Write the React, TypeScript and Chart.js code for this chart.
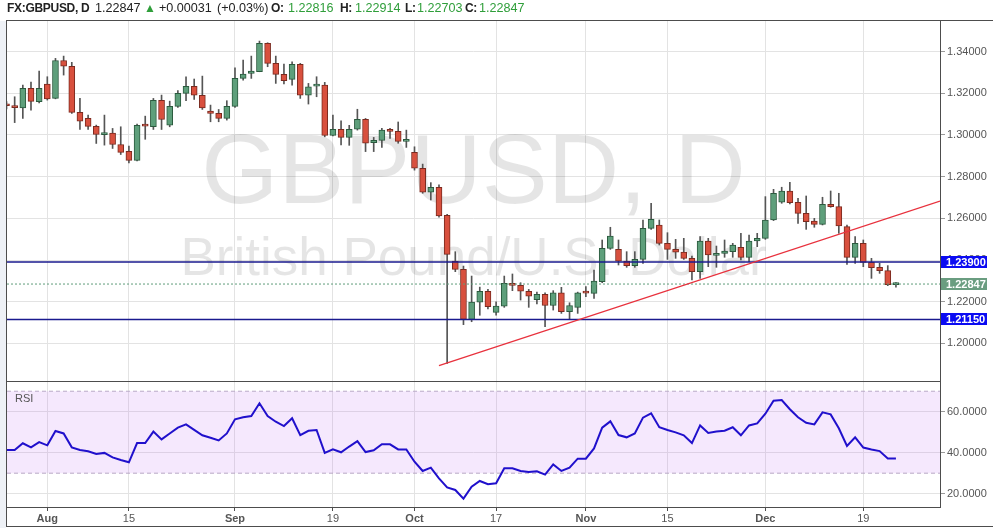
import React, { useEffect, useRef } from 'react';
import { Chart, registerables } from 'chart.js';

Chart.register(...registerables);

const FONT = "'Liberation Sans', Arial, Helvetica, sans-serif";

// ---------------- data (daily GBPUSD, Jul 25 – Dec 23) ----------------
const opens = [
  1.3145, 1.3138, 1.3130, 1.3223, 1.3159, 1.3244, 1.3175, 1.3357, 1.3329, 1.3108,
  1.3079, 1.3041, 1.3001, 1.3009, 1.2954, 1.2921, 1.2878, 1.3044, 1.3039, 1.3166,
  1.3047, 1.3137, 1.3199, 1.3233, 1.3190, 1.3114, 1.3103, 1.3079, 1.3137, 1.3271,
  1.3295, 1.3303, 1.3439, 1.3343, 1.3290, 1.3266, 1.3338, 1.3190, 1.3234, 1.3239,
  1.2998, 1.3027, 1.2988, 1.3027, 1.3075, 1.2963, 1.2974, 1.3023, 1.3017, 1.2969,
  1.2916, 1.2840, 1.2725, 1.2749, 1.2614, 1.2395, 1.2355, 1.2115, 1.2198, 1.2250,
  1.2149, 1.2178, 1.2288, 1.2278, 1.2250, 1.2210, 1.2235, 1.2182, 1.2242, 1.2152,
  1.2173, 1.2243, 1.2240, 1.2296, 1.2456, 1.2451, 1.2395, 1.2373, 1.2403, 1.2552,
  1.2568, 1.2480, 1.2451, 1.2438, 1.2408, 1.2344, 1.2491, 1.2422, 1.2432, 1.2440,
  1.2461, 1.2413, 1.2491, 1.2504, 1.2592, 1.2677, 1.2731, 1.2677, 1.2624, 1.2587,
  1.2571, 1.2667, 1.2656, 1.2560, 1.2413, 1.2480, 1.2389, 1.2365, 1.2349, 1.22816,
];
const highs = [
  1.3160, 1.3183, 1.3239, 1.3253, 1.3306, 1.3279, 1.3367, 1.3378, 1.3348, 1.3175,
  1.3095, 1.3047, 1.3095, 1.3031, 1.3039, 1.2946, 1.3052, 1.3090, 1.3175, 1.3191,
  1.3162, 1.3212, 1.3279, 1.3268, 1.3282, 1.3143, 1.3122, 1.3164, 1.3322, 1.3359,
  1.3378, 1.3450, 1.3442, 1.3378, 1.3340, 1.3351, 1.3343, 1.3247, 1.3279, 1.3252,
  1.3095, 1.3067, 1.3046, 1.3123, 1.3079, 1.2988, 1.3031, 1.3031, 1.3062, 1.3023,
  1.2943, 1.2860, 1.2771, 1.2760, 1.2619, 1.2440, 1.2371, 1.2323, 1.2270, 1.2259,
  1.2200, 1.2323, 1.2333, 1.2291, 1.2259, 1.2246, 1.2243, 1.2253, 1.2269, 1.2195,
  1.2246, 1.2272, 1.2352, 1.2496, 1.2557, 1.2496, 1.2440, 1.2440, 1.2592, 1.2672,
  1.2592, 1.2531, 1.2499, 1.2504, 1.2419, 1.2512, 1.2504, 1.2467, 1.2496, 1.2480,
  1.2528, 1.2520, 1.2528, 1.2704, 1.2739, 1.2749, 1.2773, 1.2696, 1.2707, 1.2600,
  1.2701, 1.2731, 1.2720, 1.2568, 1.2512, 1.2496, 1.2408, 1.2384, 1.2373, 1.22914,
];
const lows = [
  1.3125, 1.3059, 1.3079, 1.3119, 1.3154, 1.3167, 1.3173, 1.3287, 1.3103, 1.3026,
  1.3026, 1.2959, 1.2951, 1.2935, 1.2906, 1.2866, 1.2875, 1.2979, 1.3026, 1.3026,
  1.3039, 1.3132, 1.3164, 1.3170, 1.3122, 1.3063, 1.3063, 1.3071, 1.3132, 1.3263,
  1.3271, 1.3303, 1.3327, 1.3247, 1.3244, 1.3239, 1.3175, 1.3148, 1.3183, 1.2991,
  1.2995, 1.2952, 1.2950, 1.3023, 1.2920, 1.2920, 1.2940, 1.2983, 1.2960, 1.2940,
  1.2831, 1.2720, 1.2688, 1.2605, 1.1904, 1.2344, 1.2090, 1.2104, 1.2135, 1.2165,
  1.2135, 1.2173, 1.2253, 1.2208, 1.2173, 1.2189, 1.2080, 1.2160, 1.2144, 1.2115,
  1.2144, 1.2224, 1.2216, 1.2291, 1.2451, 1.2376, 1.2365, 1.2365, 1.2384, 1.2547,
  1.2472, 1.2403, 1.2408, 1.2403, 1.2304, 1.2312, 1.2368, 1.2365, 1.2413, 1.2413,
  1.2400, 1.2392, 1.2464, 1.2499, 1.2589, 1.2672, 1.2669, 1.2576, 1.2547, 1.2557,
  1.2568, 1.2653, 1.2528, 1.2379, 1.2384, 1.2368, 1.2312, 1.2336, 1.2277, 1.22703,
];
const closes = [
  1.3140, 1.3131, 1.3223, 1.3161, 1.3223, 1.3173, 1.3357, 1.3330, 1.3108, 1.3066,
  1.3041, 1.3002, 1.3005, 1.2954, 1.2916, 1.2878, 1.3046, 1.3042, 1.3166, 1.3074,
  1.3137, 1.3199, 1.3233, 1.3190, 1.3130, 1.3103, 1.3079, 1.3137, 1.3271, 1.3292,
  1.3306, 1.3439, 1.3343, 1.3290, 1.3260, 1.3338, 1.3190, 1.3231, 1.3236, 1.2998,
  1.3027, 1.2988, 1.3027, 1.3075, 1.2960, 1.2974, 1.3023, 1.3017, 1.2969, 1.2975,
  1.2841, 1.2725, 1.2749, 1.2611, 1.2427, 1.2355, 1.2115, 1.2198, 1.2250, 1.2176,
  1.2179, 1.2288, 1.2278, 1.2250, 1.2226, 1.2235, 1.2182, 1.2242, 1.2152, 1.2182,
  1.2242, 1.2241, 1.2299, 1.2456, 1.2515, 1.2395, 1.2373, 1.2403, 1.2552, 1.2595,
  1.2480, 1.2451, 1.2438, 1.2408, 1.2344, 1.2491, 1.2424, 1.2432, 1.2443, 1.2472,
  1.2413, 1.2491, 1.2504, 1.2592, 1.2720, 1.2731, 1.2675, 1.2624, 1.2584, 1.2571,
  1.2667, 1.2656, 1.2563, 1.2413, 1.2480, 1.2389, 1.2363, 1.2349, 1.22816, 1.22847,
];
const rsiValues = [
  41.3, 41.3, 44.6, 42.6, 45.2, 43.6, 50.6, 49.4, 42.6, 41.3,
  40.7, 39.4, 39.9, 37.7, 36.4, 35.3, 44.7, 44.7, 50.3, 46.5,
  49.4, 52.2, 53.8, 51.1, 48.5, 47.3, 46.0, 49.4, 56.3, 57.3,
  57.9, 64.1, 57.9, 55.1, 53.0, 56.8, 48.6, 50.7, 51.1, 39.9,
  41.6, 40.2, 43.0, 45.6, 40.3, 41.2, 44.1, 44.1, 41.6, 41.6,
  35.6, 31.1, 32.7, 27.5, 23.1, 21.8, 17.6, 23.4, 26.2, 24.6,
  25.1, 32.4, 32.4, 31.1, 30.6, 30.9, 29.3, 34.3, 31.1, 32.7,
  37.1, 37.1, 42.1, 52.2, 55.3, 48.6, 47.5, 49.4, 57.1, 59.2,
  52.4, 51.1, 49.9, 48.5, 44.7, 53.3, 49.6, 50.3, 50.7, 52.4,
  48.5, 53.3, 54.3, 59.0, 65.4, 65.7, 61.2, 57.3, 54.6, 53.8,
  59.7, 58.7, 51.9, 43.3, 47.5, 42.5, 41.6, 40.8, 37.2, 37.2,
];

const xTickIndex = [5, 15, 28, 40, 50, 60, 71, 81, 93, 105];
const xTickLabels = ['Aug', '15', 'Sep', '19', 'Oct', '17', 'Nov', '15', 'Dec', '19'];
const monthLabels = ['Aug', 'Sep', 'Oct', 'Nov', 'Dec'];
const priceTicks = [1.2, 1.22, 1.24, 1.26, 1.28, 1.3, 1.32, 1.34];
const rsiTicks = [20, 40, 60];
const rsiBand = [70, 30];
const levelLines = [1.239, 1.2115];
const trendX = [53, 114.4];
const trendY = [1.1893, 1.2683];

const X_MIN = 0.06;
const X_MAX = 114.4;
const PRICE_MIN = 1.18149;
const PRICE_MAX = 1.35463;
const RSI_MIN = 13.5;
const RSI_MAX = 74.5;

const GREEN_FILL = '#5e9f7b';
const GREEN_EDGE = '#2b5a3e';
const RED_FILL = '#d8503e';
const RED_EDGE = '#7a2a1f';
const WICK = '#555555';
const GRID = '#e3e3e3';
const AXIS = '#4d4d4d';
const LABEL = '#555555';

const decorPlugin = {
  id: 'decor',
  beforeDraw(chart: any) {
    const { ctx } = chart;
    ctx.save();
    ctx.fillStyle = '#ffffff';
    ctx.fillRect(0, 0, chart.width, chart.height);
    ctx.fillStyle = '#eef1f6';
    ctx.fillRect(0, 21, 6, chart.height - 21);
    ctx.restore();
  },
  beforeDatasetsDraw(chart: any) {
    const { ctx, chartArea } = chart;
    const ys = chart.scales.y;
    ctx.save();
    ctx.beginPath();
    ctx.rect(chartArea.left, ys.top, chartArea.right - chartArea.left, ys.bottom - ys.top);
    ctx.clip();
    const cx = (chartArea.left + chartArea.right) / 2;
    ctx.fillStyle = 'rgba(0,0,0,0.1)';
    ctx.textAlign = 'center';
    ctx.textBaseline = 'alphabetic';
    ctx.font = `99px ${FONT}`;
    ctx.fillText('GBPUSD, D', cx, ys.top + 182);
    ctx.font = `53px ${FONT}`;
    ctx.fillText('British Pound/U.S. Dollar', cx, ys.top + 254);
    ctx.restore();
  },
  afterDraw(chart: any) {
    const { ctx, chartArea } = chart;
    const ys = chart.scales.y;
    const rs = chart.scales.rsi;
    ctx.save();
    ctx.fillStyle = AXIS;
    ctx.fillRect(6, 20, chart.width - 6, 1);
    ctx.fillRect(6, 20, 1, chart.height - 21);
    ctx.fillRect(6, chart.height - 2, chart.width - 6, 1);
    ctx.fillRect(6, Math.round(ys.bottom) - 1, chartArea.right - 6, 1);

    const last = closes[closes.length - 1];
    const boxes = [
      { v: levelLines[0], bg: '#0b0bf2' },
      { v: last, bg: '#6a9d80' },
      { v: levelLines[1], bg: '#0b0bf2' },
    ];
    ctx.font = `bold 11px ${FONT}`;
    ctx.textAlign = 'left';
    ctx.textBaseline = 'middle';
    for (const b of boxes) {
      const py = Math.round(ys.getPixelForValue(b.v));
      ctx.fillStyle = b.bg;
      ctx.fillRect(chartArea.right + 1, py - 6, 46, 12);
      ctx.fillStyle = '#ffffff';
      ctx.fillText(b.v.toFixed(5), chartArea.right + 6, py + 0.5);
    }
    ctx.font = `11px ${FONT}`;
    ctx.fillStyle = LABEL;
    ctx.textBaseline = 'middle';
    ctx.fillText('RSI', chartArea.left + 8, rs.top + 17);
    ctx.restore();
  },
};

export default function App() {
  const ref = useRef<HTMLCanvasElement>(null);

  useEffect(() => {
    document.body.style.margin = '0';
    const canvas = ref.current;
    if (!canvas) return;
    const idx = opens.map((_, i) => i);
    const up = idx.map((i) => closes[i] >= opens[i]);
    const last = closes[closes.length - 1];

    const hline = (v: number) => [
      { x: X_MIN, y: v },
      { x: X_MAX, y: v },
    ];

    const chart = new Chart(canvas, {
      type: 'bar',
      data: {
        datasets: [
          {
            type: 'line',
            label: 'RSI',
            yAxisID: 'rsi',
            data: idx.map((i) => ({ x: i, y: rsiValues[i] })),
            borderColor: '#2010cc',
            borderWidth: 2,
            pointRadius: 0,
            tension: 0,
            fill: false,
            order: -3,
          } as any,
          {
            type: 'line',
            label: 'trend',
            yAxisID: 'y',
            data: [
              { x: trendX[0], y: trendY[0] },
              { x: trendX[1], y: trendY[1] },
            ],
            borderColor: '#e8313d',
            borderWidth: 1.3,
            pointRadius: 0,
            fill: false,
            order: -2,
          } as any,
          ...levelLines.map(
            (v) =>
              ({
                type: 'line',
                label: 'level',
                yAxisID: 'y',
                data: hline(v),
                borderColor: '#1a1a8e',
                borderWidth: 1.5,
                pointRadius: 0,
                fill: false,
                order: -1,
              } as any)
          ),
          {
            type: 'line',
            label: 'last',
            yAxisID: 'y',
            data: hline(last),
            borderColor: '#5f9c7a',
            borderWidth: 1,
            borderDash: [2, 2],
            pointRadius: 0,
            fill: false,
            order: -1,
          } as any,
          {
            type: 'bar',
            label: 'body',
            yAxisID: 'y',
            data: idx.map((i) => ({ x: i, y: [opens[i], closes[i]] })),
            backgroundColor: idx.map((i) => (up[i] ? GREEN_FILL : RED_FILL)),
            borderColor: idx.map((i) => (up[i] ? GREEN_EDGE : RED_EDGE)),
            borderWidth: 1,
            borderSkipped: false,
            barThickness: 6,
            minBarLength: 2,
            grouped: false,
            order: 1,
          } as any,
          {
            type: 'bar',
            label: 'wick',
            yAxisID: 'y',
            data: idx.map((i) => ({ x: i, y: [lows[i], highs[i]] })),
            backgroundColor: WICK,
            borderWidth: 0,
            barThickness: 1,
            grouped: false,
            order: 2,
          } as any,
          {
            type: 'line',
            label: 'ob',
            yAxisID: 'rsi',
            data: hline(rsiBand[0]),
            borderColor: '#b9a9c6',
            borderWidth: 1,
            borderDash: [4, 3],
            pointRadius: 0,
            fill: false,
            order: 5,
          } as any,
          {
            type: 'line',
            label: 'os',
            yAxisID: 'rsi',
            data: hline(rsiBand[1]),
            borderColor: '#b9a9c6',
            borderWidth: 1,
            borderDash: [4, 3],
            pointRadius: 0,
            fill: { value: rsiBand[0] },
            backgroundColor: 'rgba(190,110,240,0.16)',
            order: 5,
          } as any,
        ],
      },
      options: {
        animation: false,
        responsive: false,
        maintainAspectRatio: false,
        devicePixelRatio: 1,
        events: [],
        layout: { padding: { top: 21, left: 7, right: 0, bottom: 2 } },
        plugins: {
          legend: { display: false },
          tooltip: { enabled: false },
          title: { display: false },
        },
        scales: {
          x: {
            type: 'linear',
            position: 'bottom',
            min: X_MIN,
            max: X_MAX,
            offset: false,
            afterFit: (s: any) => {
              s.height = 19;
            },
            afterBuildTicks: (s: any) => {
              s.ticks = xTickIndex.map((v) => ({ value: v }));
            },
            grid: { color: GRID, tickColor: AXIS, tickLength: 4, offset: false },
            border: { color: AXIS, width: 1 },
            ticks: {
              autoSkip: false,
              maxRotation: 0,
              padding: 1,
              color: LABEL,
              font: (ctx: any) => {
                const k = xTickIndex.indexOf(ctx.tick ? ctx.tick.value : -1);
                const lbl = k >= 0 ? xTickLabels[k] : '';
                return { family: FONT, size: 11, weight: monthLabels.includes(lbl) ? 'bold' : 'normal' };
              },
              callback: (v: any) => {
                const k = xTickIndex.indexOf(Number(v));
                return k >= 0 ? xTickLabels[k] : '';
              },
            },
          },
          y: {
            type: 'linear',
            position: 'right',
            stack: 'panes',
            stackWeight: 361,
            min: PRICE_MIN,
            max: PRICE_MAX,
            afterFit: (s: any) => {
              s.width = 53;
            },
            afterBuildTicks: (s: any) => {
              s.ticks = priceTicks.map((v) => ({ value: v }));
            },
            grid: { color: GRID, tickColor: '#9a9a9a', tickLength: 5 },
            border: { color: AXIS, width: 1 },
            ticks: {
              padding: 2,
              color: LABEL,
              font: { family: FONT, size: 11 },
              callback: (v: any) => Number(v).toFixed(5),
            },
          },
          rsi: {
            type: 'linear',
            position: 'right',
            stack: 'panes',
            stackWeight: 125,
            min: RSI_MIN,
            max: RSI_MAX,
            afterFit: (s: any) => {
              s.width = 53;
            },
            afterBuildTicks: (s: any) => {
              s.ticks = rsiTicks.map((v) => ({ value: v }));
            },
            grid: { color: GRID, tickColor: '#9a9a9a', tickLength: 5 },
            border: { color: AXIS, width: 1 },
            ticks: {
              padding: 2,
              color: LABEL,
              font: { family: FONT, size: 11 },
              callback: (v: any) => Number(v).toFixed(4),
            },
          },
        },
      } as any,
      plugins: [decorPlugin],
    });
    return () => chart.destroy();
  }, []);

  const dark = '#222222';
  const green = '#2f9e3a';
  const hs: React.CSSProperties = {
    position: 'absolute',
    top: 0,
    lineHeight: '17px',
    fontFamily: FONT,
    fontSize: '12.6px',
    whiteSpace: 'nowrap',
    color: dark,
  };
  const hb: React.CSSProperties = { ...hs, fontWeight: 'bold', fontSize: '12px', letterSpacing: '-0.3px' };
  return (
    <div style={{ position: 'relative', width: 993, height: 528, background: '#ffffff', overflow: 'hidden' }}>
      <canvas ref={ref} width={993} height={528} style={{ display: 'block', width: 993, height: 528 }} />
      <span style={{ ...hb, left: 7 }}>FX:GBPUSD, D</span>
      <span style={{ ...hs, left: 95 }}>1.22847</span>
      <span style={{ ...hs, left: 144, color: green, fontSize: '12px' }}>▲</span>
      <span style={{ ...hs, left: 159 }}>+0.00031</span>
      <span style={{ ...hs, left: 217 }}>(+0.03%)</span>
      <span style={{ ...hb, left: 271 }}>O:</span>
      <span style={{ ...hs, left: 288, color: green }}>1.22816</span>
      <span style={{ ...hb, left: 340 }}>H:</span>
      <span style={{ ...hs, left: 355, color: green }}>1.22914</span>
      <span style={{ ...hb, left: 405 }}>L:</span>
      <span style={{ ...hs, left: 417, color: green }}>1.22703</span>
      <span style={{ ...hb, left: 465 }}>C:</span>
      <span style={{ ...hs, left: 479, color: green }}>1.22847</span>
    </div>
  );
}
